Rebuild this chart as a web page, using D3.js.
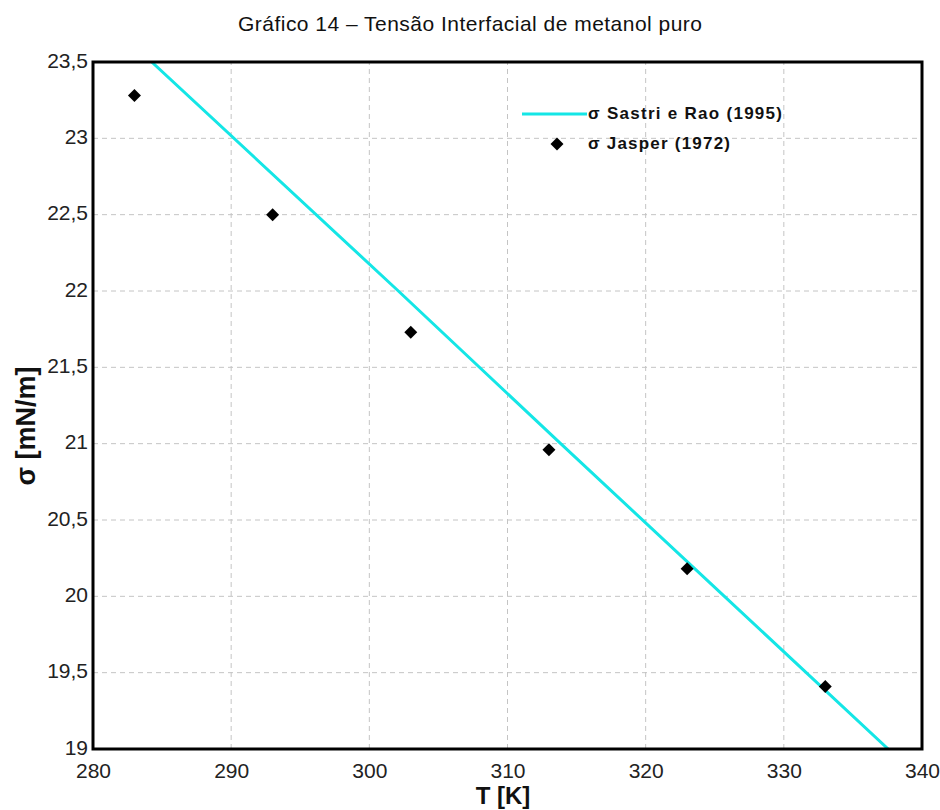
<!DOCTYPE html>
<html>
<head>
<meta charset="utf-8">
<script src="https://cdn.jsdelivr.net/npm/d3@7"></script>
<style>
  body { margin: 0; background: #fff; }
  svg { display: block; font-family: "Liberation Sans", Arial, sans-serif; }
</style>
</head>
<body>
<div id="chart"></div>
<script>
// Correlation curve (Sastri e Rao, 1995)
const modelT = [284.25, 302.1, 313.85, 325.7, 337.55];
const modelSigma = [23.5, 22.0, 21.0, 20.0, 19.0];

// Experimental points (Jasper, 1972)
const expT = [283, 293, 303, 313, 323, 333];
const expSigma = [23.28, 22.50, 21.73, 20.96, 20.18, 19.41];

const xTicks = [280, 290, 300, 310, 320, 330, 340];
const yTicks = [19, 19.5, 20, 20.5, 21, 21.5, 22, 22.5, 23, 23.5];

const width = 940, height = 810;
const margin = { top: 62, right: 18, bottom: 61, left: 93 };

const svg = d3.select("#chart").append("svg")
    .attr("width", width)
    .attr("height", height);

const x = d3.scaleLinear().domain([280, 340]).range([margin.left, width - margin.right]);
const y = d3.scaleLinear().domain([19, 23.5]).range([height - margin.bottom, margin.top]);

const fmt = d => d3.format("~g")(d).replace(".", ",");

// Title
svg.append("text")
    .attr("x", 470).attr("y", 31)
    .attr("text-anchor", "middle")
    .style("font-size", "21px")
    .attr("textLength", 464)
    .attr("fill", "#111")
    .text("Gráfico 14 – Tensão Interfacial de metanol puro");

// Grid
const grid = svg.append("g").attr("stroke", "#c4c4c4").attr("stroke-dasharray", "5,4").attr("stroke-width", 1);
grid.selectAll("line.v")
    .data(xTicks.slice(1, -1))
    .join("line")
    .attr("x1", d => x(d)).attr("x2", d => x(d))
    .attr("y1", y(19)).attr("y2", y(23.5));
grid.selectAll("line.h")
    .data(yTicks.slice(1, -1))
    .join("line")
    .attr("y1", d => y(d)).attr("y2", d => y(d))
    .attr("x1", x(280)).attr("x2", x(340));

// Axes (labels only, frame drawn separately)
const xAxis = svg.append("g")
    .attr("transform", `translate(0,${y(19)})`)
    .call(d3.axisBottom(x).tickValues(xTicks).tickFormat(fmt).tickSize(0).tickPadding(14));
const yAxis = svg.append("g")
    .attr("transform", `translate(${x(280)},0)`)
    .call(d3.axisLeft(y).tickValues(yTicks).tickFormat(fmt).tickSize(0).tickPadding(5));
[xAxis, yAxis].forEach(a => {
    a.select(".domain").remove();
    a.selectAll("text").style("font-size", "21px").attr("fill", "#222").style("font-family", "Liberation Sans, Arial, sans-serif");
});
yAxis.selectAll("text").attr("dy", "0.25em");

// Clip for the curve
svg.append("clipPath").attr("id", "plot-clip")
    .append("rect")
    .attr("x", x(280)).attr("y", y(23.5))
    .attr("width", x(340) - x(280)).attr("height", y(19) - y(23.5));

const line = d3.line().x(d => x(d[0])).y(d => y(d[1]));
svg.append("path")
    .datum(d3.zip(modelT, modelSigma))
    .attr("clip-path", "url(#plot-clip)")
    .attr("fill", "none")
    .attr("stroke", "#14e6e6")
    .attr("stroke-width", 3)
    .attr("d", line);

// Experimental markers
const diamond = d3.symbol(d3.symbolSquare, 84);
svg.append("g").selectAll("path")
    .data(d3.zip(expT, expSigma))
    .join("path")
    .attr("d", diamond)
    .attr("fill", "#000")
    .attr("transform", d => `translate(${x(d[0])},${y(d[1])}) rotate(45)`);

// Frame
svg.append("rect")
    .attr("x", x(280)).attr("y", y(23.5))
    .attr("width", x(340) - x(280)).attr("height", y(19) - y(23.5))
    .attr("fill", "none")
    .attr("stroke", "#000")
    .attr("stroke-width", 3);

// Legend
const legend = svg.append("g").style("font-size", "17px").style("font-weight", "bold").attr("fill", "#111");
legend.append("line")
    .attr("x1", 522).attr("x2", 587).attr("y1", 114).attr("y2", 114)
    .attr("stroke", "#14e6e6").attr("stroke-width", 3);
legend.append("text").attr("x", 588).attr("y", 119)
    .attr("textLength", 194).attr("lengthAdjust", "spacing")
    .text("σ Sastri e Rao (1995)");
legend.append("path")
    .attr("d", diamond)
    .attr("fill", "#000")
    .attr("transform", "translate(557,144) rotate(45)");
legend.append("text").attr("x", 588).attr("y", 149)
    .attr("textLength", 142).attr("lengthAdjust", "spacing")
    .text("σ Jasper (1972)");

// Axis titles
svg.append("text")
    .attr("x", 503).attr("y", 804)
    .attr("text-anchor", "middle")
    .style("font-size", "24px").style("font-weight", "bold")
    .attr("fill", "#111")
    .text("T  [K]");

svg.append("text")
    .attr("transform", `translate(35,${426}) rotate(-90)`)
    .attr("text-anchor", "middle")
    .style("font-size", "27px").style("font-weight", "bold")
    .attr("fill", "#111")
    .text("σ  [mN/m]");
</script>
</body>
</html>
